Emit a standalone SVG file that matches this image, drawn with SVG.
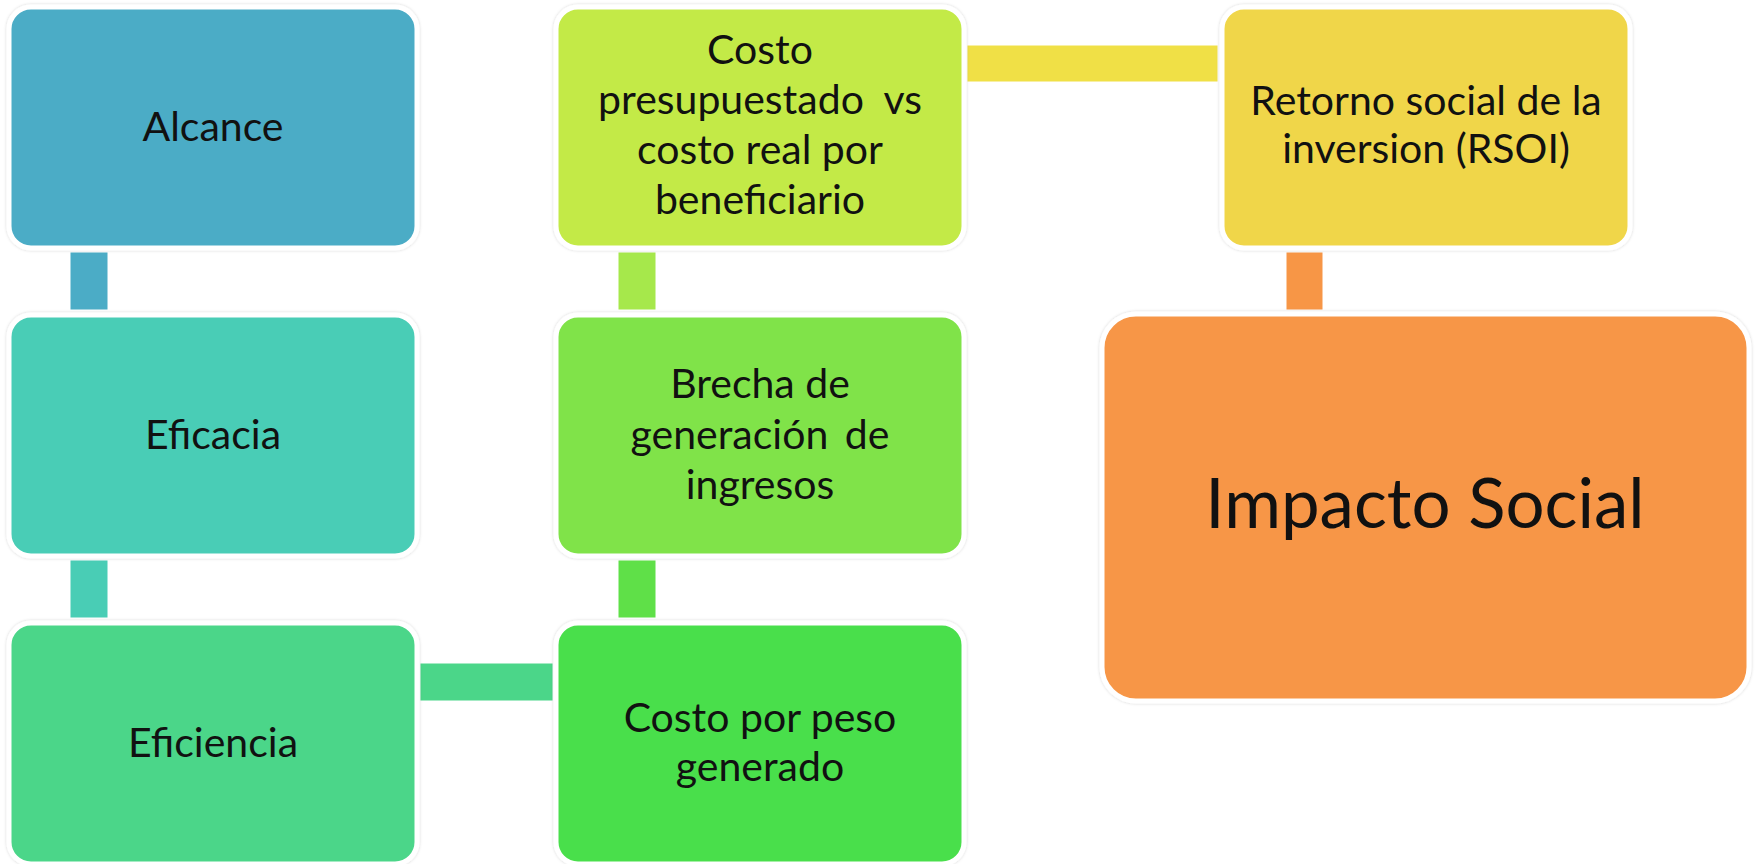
<svg xmlns="http://www.w3.org/2000/svg" width="1756" height="864" viewBox="0 0 1756 864">
<defs>
<filter id="sh" x="-5%" y="-5%" width="110%" height="110%">
<feDropShadow dx="0" dy="0" stdDeviation="1.5" flood-color="#000" flood-opacity="0.18"/>
</filter>
</defs>
<style>
.box{stroke:#ffffff;stroke-width:5;filter:url(#sh)}
.t{font-family:Lato,"Open Sans","Liberation Sans",sans-serif;font-size:41px;fill:#111;text-anchor:middle}
.big{font-size:69px}
.c{stroke:#ffffff;stroke-width:1}
</style>
<rect width="1756" height="864" fill="#ffffff"/>
<g id="connectors">
<rect class="c" x="70" y="252" width="38" height="58" fill="#4BACC6"/>
<rect class="c" x="70" y="560" width="38" height="58" fill="#49CDB5"/>
<rect class="c" x="420" y="663" width="133" height="38" fill="#4BD689"/>
<rect class="c" x="618" y="560" width="38" height="58" fill="#5FE048"/>
<rect class="c" x="618" y="252" width="38" height="58" fill="#A6E84B"/>
<rect class="c" x="967" y="45" width="251" height="37" fill="#F0E046"/>
<rect class="c" x="1286" y="252" width="37" height="58" fill="#F79646"/>
</g>
<g id="alcance">
<rect class="box" x="9" y="7" width="408" height="241" rx="22" fill="#4BACC6"/>
<text class="t" x="213" y="141">Alcance</text>
</g>
<g id="eficacia">
<rect class="box" x="9" y="315" width="408" height="241" rx="22" fill="#49CDB6"/>
<text class="t" x="213" y="449">Eficacia</text>
</g>
<g id="eficiencia">
<rect class="box" x="9" y="623" width="408" height="241" rx="22" fill="#4BD689"/>
<text class="t" x="213" y="757">Eficiencia</text>
</g>
<g id="costo-presupuestado">
<rect class="box" x="556" y="7" width="408" height="241" rx="22" fill="#C3EA46"/>
<text class="t" x="760" y="64">Costo</text>
<text class="t" x="760" y="114" word-spacing="10">presupuestado vs</text>
<text class="t" x="760" y="164">costo real por</text>
<text class="t" x="760" y="214">beneficiario</text>
</g>
<g id="brecha">
<rect class="box" x="556" y="315" width="408" height="241" rx="22" fill="#80E34A"/>
<text class="t" x="760" y="398">Brecha de</text>
<text class="t" x="760" y="449" word-spacing="6">generación de</text>
<text class="t" x="760" y="499">ingresos</text>
</g>
<g id="costo-peso">
<rect class="box" x="556" y="623" width="408" height="241" rx="22" fill="#4ADF4C"/>
<text class="t" x="760" y="732">Costo por peso</text>
<text class="t" x="760" y="781">generado</text>
</g>
<g id="retorno">
<rect class="box" x="1222" y="7" width="408" height="241" rx="22" fill="#F0D64A"/>
<text class="t" x="1426" y="115">Retorno social de la</text>
<text class="t" x="1426" y="163">inversion (RSOI)</text>
</g>
<g id="impacto">
<rect class="box" x="1102" y="314" width="647" height="387" rx="34" fill="#F79646"/>
<text class="t big" x="1425" y="528">Impacto Social</text>
</g>
</svg>
